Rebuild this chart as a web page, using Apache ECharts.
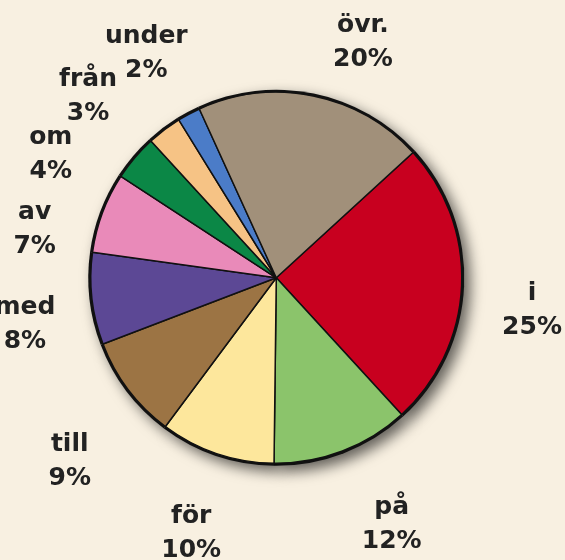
<!DOCTYPE html>
<html>
<head>
<meta charset="utf-8">
<script src="https://cdn.jsdelivr.net/npm/echarts@6/dist/echarts.min.js"></script>
<style>
  html, body { margin: 0; padding: 0; background: #f8f0e1; }
  #chart { width: 565px; height: 560px; }
</style>
</head>
<body>
<div id="chart"></div>
<script>
// prepositioner, andel i procent (medurs från "i")
const words = ['i', 'på', 'för', 'till', 'med', 'av', 'om', 'från', 'under', 'övr.'];
const shares = [25, 12, 10, 9, 8, 7, 4, 3, 2, 20];
const colors = ['#c8001f', '#8bc46b', '#fde79c', '#9c7444', '#5c4895', '#e98ab9', '#0b8746', '#f6c385', '#4b7cc8', '#a1907a'];
// små förskjutningar av etiketterna (px) så de hamnar som i originalet
const labelNudge = [[-3, 21], [23, 5], [-2, 10], [0, 28], [6, 17], [1, 42], [-28, 44], [-32, 25], [-8, 4], [35, 19]];

const chart = echarts.init(document.getElementById('chart'));

const pieData = words.map((w, i) => ({ name: w, value: shares[i] }));
const labelData = words.map((w, i) => ({
  name: w,
  value: shares[i],
  label: { offset: labelNudge[i] }
}));
const center = ['48.9%', '49.6%'];

chart.setOption({
  backgroundColor: '#f8f0e1',
  animation: false,
  color: colors,
  series: [
    {
      // skugga + tjock ytterkant
      type: 'pie',
      silent: true,
      center: center,
      radius: 188,
      startAngle: 42.5,
      z: 1,
      label: { show: false },
      labelLine: { show: false },
      itemStyle: {
        color: '#111',
        shadowColor: 'rgba(0,0,0,0.6)',
        shadowBlur: 14,
        shadowOffsetX: 6,
        shadowOffsetY: 6
      },
      data: pieData
    },
    {
      type: 'pie',
      silent: true,
      center: center,
      radius: 185.5,
      startAngle: 42.5,
      z: 2,
      label: { show: false },
      labelLine: { show: false },
      itemStyle: { borderColor: '#111', borderWidth: 1.5 },
      data: pieData
    },
    {
      // etiketter på en osynlig ring utanför cirkeln
      type: 'pie',
      silent: true,
      center: center,
      radius: [238, 274],
      startAngle: 42.5,
      avoidLabelOverlap: false,
      minShowLabelAngle: 0,
      labelLayout: { hideOverlap: false },
      z: 3,
      itemStyle: { color: 'rgba(0,0,0,0)' },
      labelLine: { show: false },
      label: {
        show: true,
        position: 'inside',
        formatter: '{b}\n{c}%',
        color: '#222',
        fontFamily: 'DejaVu Sans',
        fontWeight: 'bold',
        fontSize: 25,
        lineHeight: 34,
        align: 'center'
      },
      data: labelData
    }
  ]
});
</script>
</body>
</html>
